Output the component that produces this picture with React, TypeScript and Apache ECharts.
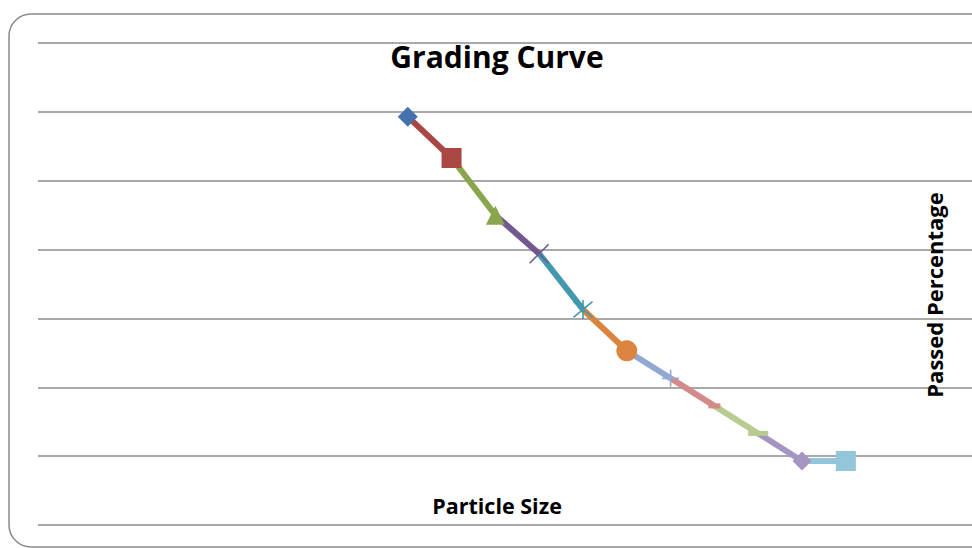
import React, { useEffect, useRef } from "react";
import * as echarts from "echarts";

// Sieve positions (evenly spaced along the unlabeled particle-size axis)
const sieveIndex = [1, 2, 3, 4, 5, 6, 7, 8, 9, 10, 11];
// Passed percentage
const passedPercent = [59.3, 53.3, 45.0, 39.4, 31.3, 25.3, 21.3, 17.3, 13.3, 9.3, 9.3];
// Y tick range (labels hidden in the reference)
const yTicks = [0, 10, 20, 30, 40, 50, 60, 70];

const seriesColors = [
  "#4472AE",
  "#AA4643",
  "#89A54E",
  "#71588F",
  "#4198AF",
  "#DB843D",
  "#91A8D2",
  "#D38A88",
  "#B7CC8F",
  "#A695C2",
  "#92C6D8",
];

const X_PATH = "path://M0,0L20,20M20,0L0,20";
const STAR_PATH = "path://M0,0L20,20M20,0L0,20M10,-2L10,22";
const PLUS_PATH = "path://M0,10L20,10M10,0L10,20";

const markers: { symbol: string; size: number | number[]; outline?: boolean }[] = [
  { symbol: "diamond", size: 20 },
  { symbol: "rect", size: 20 },
  { symbol: "triangle", size: 19 },
  { symbol: X_PATH, size: 19, outline: true },
  { symbol: STAR_PATH, size: 19, outline: true },
  { symbol: "circle", size: 21 },
  { symbol: PLUS_PATH, size: 17, outline: true },
  { symbol: "rect", size: [12, 5] },
  { symbol: "rect", size: [20, 5] },
  { symbol: "diamond", size: 19 },
  { symbol: "rect", size: 20 },
];

export default function App() {
  const ref = useRef<HTMLDivElement>(null);

  useEffect(() => {
    if (!ref.current) return;
    const chart = echarts.init(ref.current, null, { renderer: "svg" });

    const series: any[] = [];
    for (let i = 1; i < sieveIndex.length; i++) {
      series.push({
        type: "line",
        name: "seg" + i,
        data: [
          [sieveIndex[i - 1], passedPercent[i - 1]],
          [sieveIndex[i], passedPercent[i]],
        ],
        showSymbol: false,
        symbol: "none",
        lineStyle: { color: seriesColors[i], width: 6, cap: "butt", opacity: 1 },
        itemStyle: { color: seriesColors[i] },
        z: 2,
        silent: true,
      });
    }
    for (let i = 0; i < sieveIndex.length; i++) {
      const m = markers[i];
      series.push({
        type: "scatter",
        name: "pt" + i,
        data: [[sieveIndex[i], passedPercent[i]]],
        symbol: m.symbol,
        symbolSize: m.size,
        itemStyle: m.outline
          ? { color: "rgba(0,0,0,0)", borderColor: seriesColors[i], borderWidth: 1.6, opacity: 1 }
          : { color: seriesColors[i], opacity: 1 },
        z: 3,
        silent: true,
      });
    }

    chart.setOption({
      animation: false,
      backgroundColor: "#ffffff",
      grid: { left: 38, right: 0, top: 43, bottom: 23 },
      xAxis: {
        type: "value",
        min: -7.44,
        max: 13.88,
        show: false,
      },
      yAxis: {
        type: "value",
        min: yTicks[0],
        max: yTicks[yTicks.length - 1],
        interval: 10,
        axisLabel: { show: false },
        axisTick: { show: false },
        axisLine: { show: false },
        splitLine: { show: true, lineStyle: { color: "#8c8c8c", width: 1.5 } },
      },
      graphic: [
        {
          type: "rect",
          shape: { x: 9, y: 14, width: 990, height: 533, r: 22 },
          style: { fill: "none", stroke: "#8a8a8a", lineWidth: 1.5 },
          z: 10,
          silent: true,
        },
        {
          type: "text",
          x: 497,
          y: 56,
          style: {
            text: "Grading Curve",
            font: 'bold 30px "Open Sans"',
            fill: "#000000",
            align: "center",
            verticalAlign: "middle",
          },
          z: 10,
        },
        {
          type: "text",
          x: 497,
          y: 505,
          style: {
            text: "Particle Size",
            font: 'bold 21.5px "Open Sans"',
            fill: "#000000",
            align: "center",
            verticalAlign: "middle",
          },
          z: 10,
        },
        {
          type: "text",
          x: 934,
          y: 295,
          rotation: Math.PI / 2,
          style: {
            text: "Passed Percentage",
            font: 'bold 22px "Open Sans"',
            fill: "#000000",
            align: "center",
            verticalAlign: "middle",
          },
          z: 10,
        },
      ],
      series,
    });

    return () => chart.dispose();
  }, []);

  return (
    <div
      ref={ref}
      style={{ position: "fixed", left: 0, top: 0, width: 972, height: 548 }}
    />
  );
}
